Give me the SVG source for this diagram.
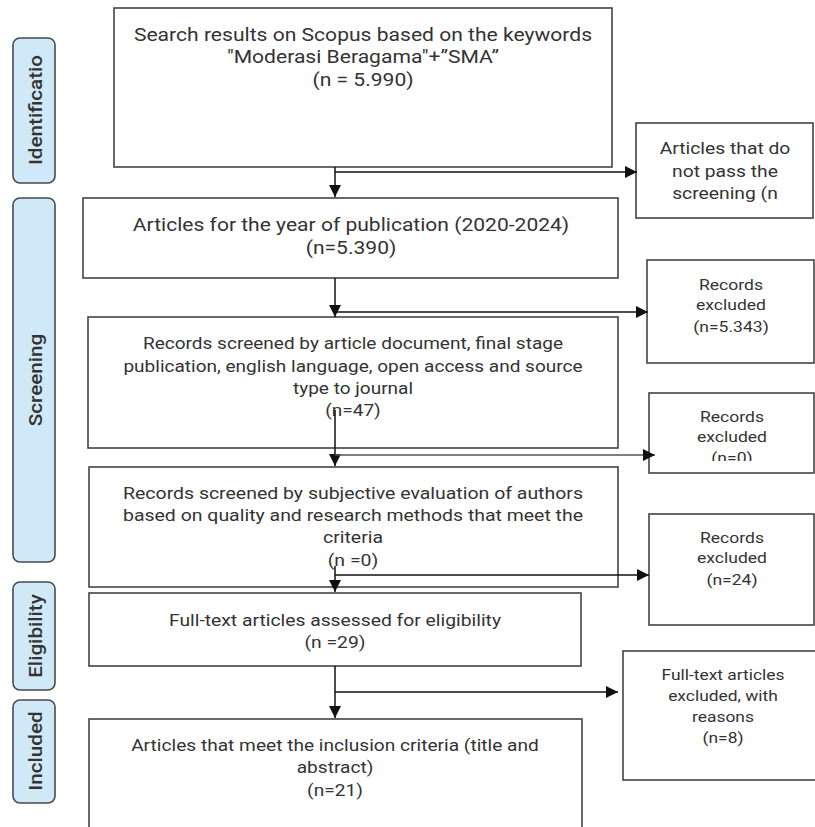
<svg xmlns="http://www.w3.org/2000/svg" width="815" height="827" viewBox="0 0 815 827">
<style>
.bg{fill:#ffffff}
.box{fill:#ffffff;stroke:#444444;stroke-width:1.6}
.side{fill:#cfe9f8;stroke:#4a4a4a;stroke-width:1.6}
.t{font-family:Roboto,"Liberation Sans",sans-serif;fill:#333333;text-anchor:middle}
.sl{font-family:Roboto,"Liberation Sans",sans-serif;fill:#333333;text-anchor:middle;font-size:18px;font-weight:500}
.c{fill:none;stroke:#111111;stroke-width:1.5}
.cg{fill:none;stroke:#555555;stroke-width:1.5}
</style>
<defs>
<marker id="ahb" viewBox="0 0 10 10" refX="10" refY="5" markerWidth="12" markerHeight="12" markerUnits="userSpaceOnUse" orient="auto">
<path d="M0,0 L10,5 L0,10 z" fill="#111111"/>
</marker>
<clipPath id="clip0"><rect x="649" y="393" width="166" height="68"/></clipPath>
</defs>
<rect class="bg" x="0" y="0" width="815" height="827"/>

<g id="side-identification">
<rect class="side" x="13" y="38" width="42" height="145" rx="7"/>
<text class="sl" transform="translate(42,110) rotate(-90) scale(1.15,1)">Identificatio</text>
</g>
<g id="side-screening">
<rect class="side" x="13" y="198" width="42" height="364" rx="7"/>
<text class="sl" transform="translate(42,380) rotate(-90) scale(1.15,1)">Screening</text>
</g>
<g id="side-eligibility">
<rect class="side" x="13" y="582" width="42" height="108" rx="7"/>
<text class="sl" transform="translate(42,636) rotate(-90) scale(1.15,1)">Eligibility</text>
</g>
<g id="side-included">
<rect class="side" x="13" y="700" width="42" height="103" rx="7"/>
<text class="sl" transform="translate(42,751) rotate(-90) scale(1.15,1)">Included</text>
</g>

<g id="n-search">
<rect class="box" x="114" y="8" width="498" height="159"/>
<text class="t" font-size="18.5" transform="translate(363,0) scale(1.14,1)"><tspan x="0" y="41">Search results on Scopus based on the keywords</tspan><tspan x="0" y="63">"Moderasi Beragama"+”SMA”</tspan><tspan x="0" y="86">(n = 5.990)</tspan></text>
</g>
<g id="n-notpass">
<rect class="box" x="636" y="123" width="177" height="95"/>
<text class="t" font-size="16.5" transform="translate(725,0) scale(1.17,1)"><tspan x="0" y="154">Articles that do</tspan><tspan x="0" y="177">not pass the</tspan><tspan x="0" y="199">screening (n</tspan></text>
</g>
<g id="n-year">
<rect class="box" x="83" y="198" width="535" height="80"/>
<text class="t" font-size="18" transform="translate(351,0) scale(1.17,1)"><tspan x="0" y="231">Articles for the year of publication (2020-2024)</tspan><tspan x="0" y="254">(n=5.390)</tspan></text>
</g>
<g id="n-excl1">
<rect class="box" x="647" y="260" width="167" height="103"/>
<text class="t" font-size="15" transform="translate(731,0) scale(1.17,1)"><tspan x="0" y="290">Records</tspan><tspan x="0" y="310">excluded</tspan><tspan x="0" y="332">(n=5.343)</tspan></text>
</g>
<g id="n-screen1">
<rect class="box" x="88" y="317" width="530" height="131"/>
<text class="t" font-size="17" transform="translate(353,0) scale(1.12,1)"><tspan x="0" y="349">Records screened by article document, final stage</tspan><tspan x="0" y="372">publication, english language, open access and source</tspan><tspan x="0" y="394">type to journal</tspan><tspan x="0" y="416">(n=47)</tspan></text>
</g>
<g id="n-excl2">
<rect class="box" x="649" y="393" width="165" height="80"/>
<g clip-path="url(#clip0)">
<text class="t" font-size="15" transform="translate(732,0) scale(1.17,1)"><tspan x="0" y="422">Records</tspan><tspan x="0" y="442">excluded</tspan><tspan x="0" y="463">(n=0)</tspan></text>
</g>
</g>
<g id="n-screen2">
<rect class="box" x="89" y="467" width="529" height="120"/>
<text class="t" font-size="17" transform="translate(353,0) scale(1.145,1)"><tspan x="0" y="499">Records screened by subjective evaluation of authors</tspan><tspan x="0" y="521">based on quality and research methods that meet the</tspan><tspan x="0" y="543">criteria</tspan><tspan x="0" y="566">(n =0)</tspan></text>
</g>
<g id="n-excl3">
<rect class="box" x="649" y="514" width="165" height="111"/>
<text class="t" font-size="15" transform="translate(732,0) scale(1.17,1)"><tspan x="0" y="543">Records</tspan><tspan x="0" y="563">excluded</tspan><tspan x="0" y="585">(n=24)</tspan></text>
</g>
<g id="n-fulltext">
<rect class="box" x="89" y="593" width="492" height="73"/>
<text class="t" font-size="16.5" transform="translate(335,0) scale(1.17,1)"><tspan x="0" y="626">Full-text articles assessed for eligibility</tspan><tspan x="0" y="648">(n =29)</tspan></text>
</g>
<g id="n-excl4">
<rect class="box" x="623" y="651" width="194" height="129"/>
<text class="t" font-size="15" transform="translate(723,0) scale(1.16,1)"><tspan x="0" y="680">Full-text articles</tspan><tspan x="0" y="701">excluded, with</tspan><tspan x="0" y="722">reasons</tspan><tspan x="0" y="743">(n=8)</tspan></text>
</g>
<g id="n-included">
<rect class="box" x="89" y="719" width="493" height="120"/>
<text class="t" font-size="16.5" transform="translate(335,0) scale(1.16,1)"><tspan x="0" y="751">Articles that meet the inclusion criteria (title and</tspan><tspan x="0" y="773">abstract)</tspan><tspan x="0" y="796">(n=21)</tspan></text>
</g>

<g id="connectors">
<line class="c" x1="335" y1="167" x2="335" y2="197" marker-end="url(#ahb)"/>
<line class="c" x1="335" y1="172" x2="637" y2="172" marker-end="url(#ahb)"/>
<line class="c" x1="335" y1="278" x2="335" y2="317" marker-end="url(#ahb)"/>
<line class="c" x1="335" y1="312" x2="648" y2="312" marker-end="url(#ahb)"/>
<line class="c" x1="335" y1="410" x2="335" y2="466" marker-end="url(#ahb)"/>
<line class="cg" x1="335" y1="455" x2="655" y2="455" marker-end="url(#ahb)"/>
<line class="c" x1="335" y1="566" x2="335" y2="592" marker-end="url(#ahb)"/>
<line class="c" x1="335" y1="575" x2="649" y2="575" marker-end="url(#ahb)"/>
<line class="c" x1="335" y1="666" x2="335" y2="718" marker-end="url(#ahb)"/>
<line class="c" x1="335" y1="692" x2="618" y2="692" marker-end="url(#ahb)"/>
</g>
</svg>
